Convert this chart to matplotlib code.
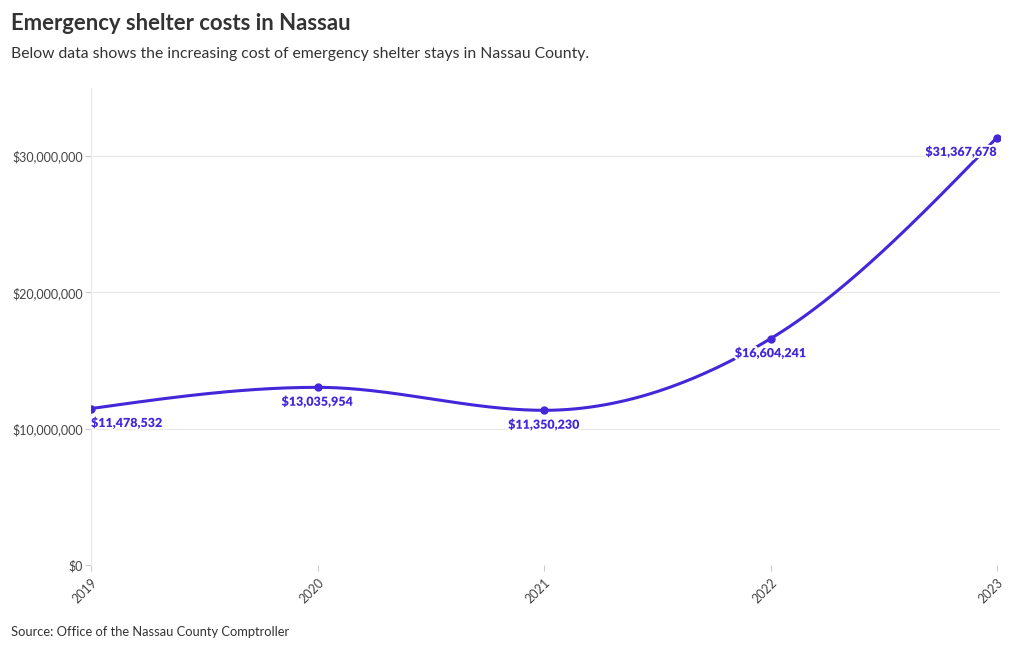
import numpy as np
import matplotlib
matplotlib.use("Agg")
import matplotlib.pyplot as plt
import matplotlib.patheffects as pe
from matplotlib.ticker import FuncFormatter

# --- DATA ---
years = [2019, 2020, 2021, 2022, 2023]
costs = [11478532, 13035954, 11350230, 16604241, 31367678]
labels = ["$11,478,532", "$13,035,954", "$11,350,230", "$16,604,241", "$31,367,678"]

LINE = "#4527d9"
TEXT = "#333333"
GRID = "#e8e8e8"

plt.rcParams["font.family"] = ["Lato", "DejaVu Sans"]


def monotone_curve(x, y, n=60):
    """Monotone cubic (d3 curveMonotoneX style) through the points."""
    x = np.asarray(x, float)
    y = np.asarray(y, float)
    h = np.diff(x)
    s = np.diff(y) / h
    t = np.zeros(len(x))
    for i in range(1, len(x) - 1):
        p = (s[i - 1] * h[i] + s[i] * h[i - 1]) / (h[i - 1] + h[i])
        t[i] = (np.sign(s[i - 1]) + np.sign(s[i])) * min(abs(s[i - 1]), abs(s[i]), 0.5 * abs(p))
    t[0] = (3 * s[0] - t[1]) / 2
    t[-1] = (3 * s[-1] - t[-2]) / 2
    xs, ys = [], []
    for i in range(len(x) - 1):
        u = np.linspace(0, 1, n)
        h00 = 2 * u**3 - 3 * u**2 + 1
        h10 = u**3 - 2 * u**2 + u
        h01 = -2 * u**3 + 3 * u**2
        h11 = u**3 - u**2
        xs.append(x[i] + u * h[i])
        ys.append(h00 * y[i] + h10 * h[i] * t[i] + h01 * y[i + 1] + h11 * h[i] * t[i + 1])
    return np.concatenate(xs), np.concatenate(ys)


fig = plt.figure(figsize=(10.2, 6.5), dpi=100)
ax = fig.add_axes([91 / 1020, 1 - 565 / 650, (1000 - 91) / 1020, (565 - 88) / 650])

cx, cy = monotone_curve(years, costs)
ax.plot(cx, cy, color=LINE, linewidth=2.2, zorder=3, solid_capstyle="round")
ax.plot(years, costs, "o", color=LINE, markersize=5, zorder=4)

halo = [pe.withStroke(linewidth=3, foreground="white")]
aligns = ["left", "center", "center", "center", "right"]
for yr, val, lab, ha in zip(years, costs, labels, aligns):
    ax.annotate(lab, (yr, val), xytext=(0, -5), textcoords="offset points",
                ha=ha, va="top", fontsize=9, fontweight="heavy", color=LINE,
                path_effects=halo, zorder=5)

# --- AXES FORMATTING ---
ax.set_xlim(2019, 2023 + 4 * 3 / 906)
ax.set_ylim(0, 35000000)
ax.set_xticks(years)
ax.set_xticklabels([str(y) for y in years], rotation=45, ha="right", va="top",
                   rotation_mode="anchor")
ax.set_yticks([0, 10000000, 20000000, 30000000])
ax.yaxis.set_major_formatter(FuncFormatter(lambda v, p: "${:,.0f}".format(v)))
ax.grid(axis="y", color=GRID, linewidth=0.8)
for sp in ["top", "right", "bottom"]:
    ax.spines[sp].set_visible(False)
ax.spines["left"].set_color(GRID)
ax.spines["left"].set_linewidth(0.8)
ax.tick_params(axis="both", colors="#cccccc", labelcolor="#444444", labelsize=9,
               length=4, width=0.8)
ax.tick_params(axis="y", pad=2)
ax.tick_params(axis="x", pad=4)

# --- TITLES ---
fig.text(11 / 1020, 1 - 24 / 650, "Emergency shelter costs in Nassau", fontsize=15.9,
         fontweight="bold", color=TEXT, va="center", ha="left")
fig.text(11 / 1020, 1 - 54 / 650,
         "Below data shows the increasing cost of emergency shelter stays in Nassau County.",
         fontsize=11.3, color=TEXT, va="center", ha="left")
fig.text(11 / 1020, 1 - 632 / 650, "Source: Office of the Nassau County Comptroller",
         fontsize=9.3, color=TEXT, va="center", ha="left")

fig.savefig("out.png", dpi=100, facecolor="white")
